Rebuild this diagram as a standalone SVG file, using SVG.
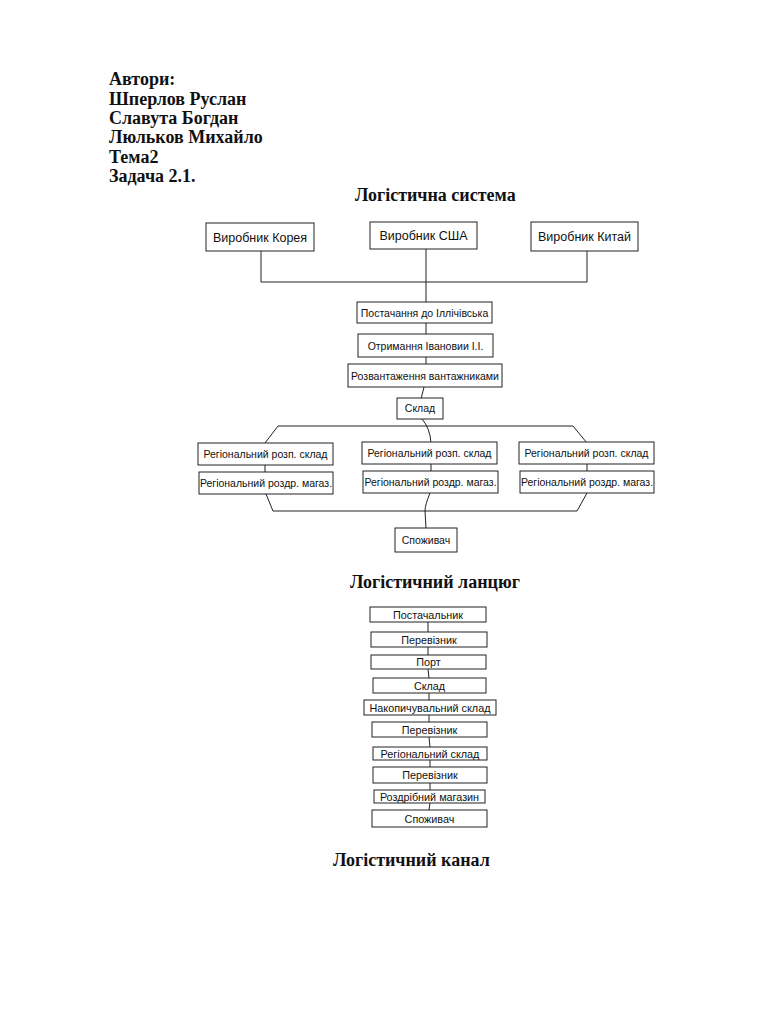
<svg xmlns="http://www.w3.org/2000/svg" width="768" height="1024" viewBox="0 0 768 1024">
<style>
.h{font-family:"Liberation Serif","Times New Roman",serif;font-weight:bold;font-size:18px;fill:#111}
.b{fill:#fff;stroke:#222;stroke-width:1}
.t{font-family:"Liberation Sans",Arial,sans-serif;fill:#111;text-anchor:middle}
.t1{font-size:12.5px}
.t2{font-size:10.5px}
.t3{font-size:10.8px}
.c{fill:none;stroke:#222;stroke-width:1}
</style>
<rect width="768" height="1024" fill="#fff"/>
<g id="header">
<text class="h" x="109" y="85">Автори:</text>
<text class="h" x="109" y="105">Шперлов Руслан</text>
<text class="h" x="109" y="124">Славута Богдан</text>
<text class="h" x="109" y="143">Люльков Михайло</text>
<text class="h" x="109" y="163">Тема2</text>
<text class="h" x="109" y="182">Задача 2.1.</text>
<text class="h" x="355" y="201">Логістична система</text>
<text class="h" x="350" y="588">Логістичний ланцюг</text>
<text class="h" x="333" y="866">Логістичний канал</text>
</g>
<g id="connectors">
<polyline class="c" points="261,251 261,282 587,282 587,251"/>
<line class="c" x1="426" y1="249" x2="426" y2="302"/>
<line class="c" x1="426" y1="323" x2="426" y2="334"/>
<line class="c" x1="426" y1="357" x2="426" y2="364"/>
<line class="c" x1="424" y1="387" x2="421" y2="399"/>
<polyline class="c" points="265,443 278,426 573,426 587,443"/>
<path class="c" d="M422,419 Q430,428 431,443"/>
<line class="c" x1="265" y1="465" x2="265" y2="472"/>
<line class="c" x1="431" y1="464" x2="431" y2="471"/>
<line class="c" x1="587" y1="464" x2="587" y2="471"/>
<polyline class="c" points="266,494 273,511 577,511 587,493"/>
<path class="c" d="M430,493 Q425,505 425,511 L426,528"/>
<line class="c" x1="428" y1="622" x2="428" y2="632"/>
<line class="c" x1="428" y1="647" x2="428" y2="655"/>
<line class="c" x1="428" y1="669" x2="429" y2="678"/>
<line class="c" x1="429" y1="693" x2="429" y2="700"/>
<line class="c" x1="429" y1="715" x2="429" y2="722"/>
<line class="c" x1="429" y1="737" x2="430" y2="747"/>
<line class="c" x1="430" y1="760" x2="430" y2="767"/>
<line class="c" x1="430" y1="783" x2="430" y2="790"/>
<line class="c" x1="430" y1="803" x2="429" y2="810"/>
</g>
<g id="n-korea"><rect class="b" x="206" y="223" width="108" height="28"/><text class="t t1" x="260" y="242">Виробник Корея</text></g>
<g id="n-usa"><rect class="b" x="370" y="222" width="107" height="27"/><text class="t t1" x="423.5" y="240">Виробник США</text></g>
<g id="n-china"><rect class="b" x="531" y="222" width="107" height="29"/><text class="t t1" x="584.5" y="241">Виробник Китай</text></g>
<g id="n-supply"><rect class="b" x="357" y="302" width="135" height="21"/><text class="t t2" x="424.5" y="316.5">Постачання до Іллічівська</text></g>
<g id="n-receive"><rect class="b" x="358" y="334" width="135" height="23"/><text class="t t2" x="425.5" y="349.5">Отримання Івановии І.І.</text></g>
<g id="n-unload"><rect class="b" x="348" y="364" width="154" height="23"/><text class="t t2" x="425" y="379.5">Розвантаження вантажниками</text></g>
<g id="n-sklad"><rect class="b" x="397" y="398" width="46" height="21"/><text class="t t2" x="420" y="411.5">Склад</text></g>
<g id="n-rs1"><rect class="b" x="198" y="443" width="135" height="22"/><text class="t t2" x="265.5" y="458">Регіональний розп. склад</text></g>
<g id="n-rm1"><rect class="b" x="199" y="472" width="134" height="22"/><text class="t t2" x="266" y="487">Регіональний роздр. магаз.</text></g>
<g id="n-rs2"><rect class="b" x="362" y="442" width="135" height="22"/><text class="t t2" x="429.5" y="457">Регіональний розп. склад</text></g>
<g id="n-rm2"><rect class="b" x="363" y="471" width="135" height="22"/><text class="t t2" x="430.5" y="486">Регіональний роздр. магаз.</text></g>
<g id="n-rs3"><rect class="b" x="519" y="442" width="135" height="22"/><text class="t t2" x="586.5" y="457">Регіональний розп. склад</text></g>
<g id="n-rm3"><rect class="b" x="520" y="471" width="134" height="22"/><text class="t t2" x="587" y="486">Регіональний роздр. магаз.</text></g>
<g id="n-consumer"><rect class="b" x="395" y="528" width="62" height="24"/><text class="t t2" x="426" y="544">Споживач</text></g>
<g id="c1"><rect class="b" x="370" y="607" width="116" height="15"/><text class="t t3" x="428" y="618.5">Постачальник</text></g>
<g id="c2"><rect class="b" x="371" y="632" width="116" height="15"/><text class="t t3" x="429" y="643.5">Перевізник</text></g>
<g id="c3"><rect class="b" x="371" y="655" width="115" height="14"/><text class="t t3" x="428.5" y="665.5">Порт</text></g>
<g id="c4"><rect class="b" x="373" y="678" width="113" height="15"/><text class="t t3" x="429.5" y="689.5">Склад</text></g>
<g id="c5"><rect class="b" x="364" y="700" width="132" height="15"/><text class="t t3" x="430" y="711.5">Накопичувальний склад</text></g>
<g id="c6"><rect class="b" x="372" y="722" width="115" height="15"/><text class="t t3" x="429.5" y="733.5">Перевізник</text></g>
<g id="c7"><rect class="b" x="373" y="747" width="114" height="13"/><text class="t t3" x="430" y="757.5">Регіональний склад</text></g>
<g id="c8"><rect class="b" x="373" y="767" width="114" height="16"/><text class="t t3" x="430" y="779">Перевізник</text></g>
<g id="c9"><rect class="b" x="374" y="790" width="111" height="13"/><text class="t t3" x="429.5" y="800.5">Роздрібний магазин</text></g>
<g id="c10"><rect class="b" x="372" y="810" width="115" height="17"/><text class="t t3" x="429.5" y="822.5">Споживач</text></g>
</svg>
